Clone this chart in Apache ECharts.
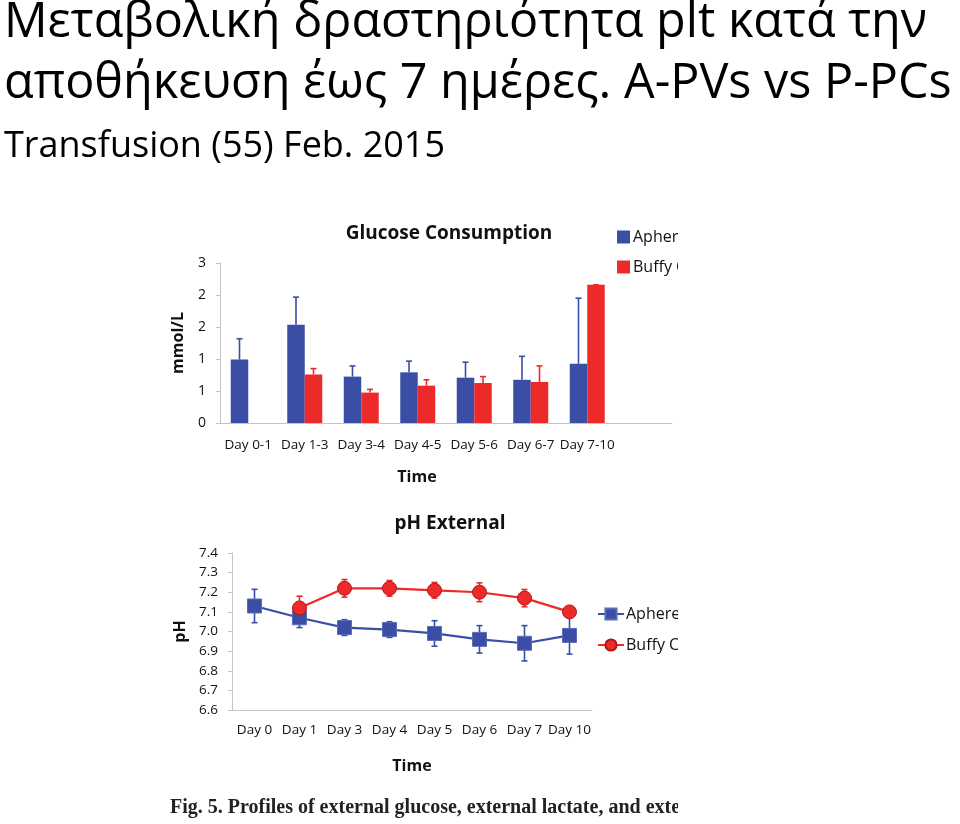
<!DOCTYPE html>
<html>
<head>
    <meta charset="utf-8">
    <title>Glucose / pH</title>
    <script src="https://cdn.jsdelivr.net/npm/echarts@6/dist/echarts.min.js"></script>
    <style>
        body { margin: 0; background: #fff; }
        #head { position: absolute; left: 0; top: 0; width: 960px; height: 170px; }
        #fig { position: absolute; left: 0; top: 170px; width: 678px; height: 654px; }
    </style>
</head>
<body>
    <div id="head"></div>
    <div id="fig"></div>
    <script>
        // glucose consumption (mmol/L), mean + SD
        var glucCats = ['Day 0-1', 'Day 1-3', 'Day 3-4', 'Day 4-5', 'Day 5-6', 'Day 6-7', 'Day 7-10', ''];
        var glucApher = [1.19, 1.84, 0.87, 0.95, 0.85, 0.81, 1.11];
        var glucApherSd = [0.39, 0.52, 0.20, 0.21, 0.29, 0.44, 1.23];
        var glucBuffy = [null, 0.91, 0.57, 0.70, 0.75, 0.77, 2.59];
        var glucBuffySd = [null, 0.11, 0.06, 0.11, 0.12, 0.30, 0];

        // external pH, mean + SD
        var phCats = ['Day 0', 'Day 1', 'Day 3', 'Day 4', 'Day 5', 'Day 6', 'Day 7', 'Day 10'];
        var phApher = [7.13, 7.07, 7.02, 7.01, 6.99, 6.96, 6.94, 6.98];
        var phApherSd = [0.085, 0.05, 0.04, 0.04, 0.065, 0.07, 0.09, 0.095];
        var phBuffy = [null, 7.12, 7.22, 7.22, 7.21, 7.20, 7.17, 7.10];
        var phBuffySd = [null, 0.06, 0.045, 0.04, 0.04, 0.048, 0.044, 0.01];

        var BLUE = '#3b4ea6';
        var RED = '#ec2a2a';
        var FONT = '"Open Sans", sans-serif';
        var AXIS_GREY = '#c4c4c4';

        // header text
        var head = echarts.init(document.getElementById('head'));
        head.setOption({
            graphic: [
                { type: 'text', x: 4, y: 23, style: { text: 'Μεταβολική δραστηριότητα plt κατά την', fontSize: 48.5, fontFamily: FONT, fill: '#000', verticalAlign: 'middle' } },
                { type: 'text', x: 4, y: 84, style: { text: 'αποθήκευση έως 7 ημέρες. A-PVs vs P-PCs', fontSize: 48.5, fontFamily: FONT, fill: '#000', verticalAlign: 'middle' } },
                { type: 'text', x: 4, y: 147, style: { text: 'Transfusion (55) Feb. 2015', fontSize: 36, fontFamily: FONT, fill: '#000', verticalAlign: 'middle' } }
            ]
        });

        function errData(vals, sds) {
            var out = [];
            for (var i = 0; i < vals.length; i++) {
                if (vals[i] != null && sds[i] != null) out.push([i, vals[i], sds[i]]);
            }
            return out;
        }

        // vertical error bar, optional offset (for grouped bars), optional lower half
        function errRender(color, offset, cap, both) {
            return function (params, api) {
                var i = api.value(0), v = api.value(1), sd = api.value(2);
                var top = api.coord([i, v + sd]);
                var bot = api.coord([i, both ? v - sd : v]);
                var x = top[0] + offset;
                var st = { stroke: color, lineWidth: 1.6 };
                var kids = [
                    { type: 'line', shape: { x1: x, y1: top[1], x2: x, y2: bot[1] }, style: st },
                    { type: 'line', shape: { x1: x - cap, y1: top[1], x2: x + cap, y2: top[1] }, style: st }
                ];
                if (both) kids.push({ type: 'line', shape: { x1: x - cap, y1: bot[1], x2: x + cap, y2: bot[1] }, style: st });
                return { type: 'group', children: kids };
            };
        }

        var axisText = { color: '#111', fontFamily: FONT, fontSize: 13.5 };
        var nameText = { color: '#111', fontFamily: FONT, fontSize: 16, fontWeight: 'bold' };
        var titleText = { fontFamily: FONT, fontSize: 19, fontWeight: 'bold', color: '#111' };

        var fig = echarts.init(document.getElementById('fig'));
        fig.setOption({
            animation: false,
            title: [
                { text: 'Glucose Consumption', left: 444, top: 49, textAlign: 'center', textStyle: titleText },
                { text: 'pH External', left: 445, top: 339, textAlign: 'center', textStyle: titleText }
            ],
            legend: [
                { data: ['Apheresis', 'Buffy Coat'], orient: 'vertical', left: 617, top: 59, padding: 0,
                  itemWidth: 13, itemHeight: 13, itemGap: 14, icon: 'rect',
                  textStyle: { fontFamily: FONT, fontSize: 16, color: '#111', padding: [0, 0, 0, -2] } },
                { data: ['Apheresis ', 'Buffy Coat '], orient: 'vertical', left: 597, top: 436, padding: 0,
                  itemWidth: 26, itemHeight: 14, itemGap: 15,
                  textStyle: { fontFamily: FONT, fontSize: 16, color: '#111', padding: [0, 0, 0, -3] } }
            ],
            grid: [
                { left: 220, right: 6, top: 93, height: 160 },
                { left: 232, right: 86, top: 383, height: 157 }
            ],
            xAxis: [
                { type: 'category', gridIndex: 0, data: glucCats,
                  name: 'Time', nameLocation: 'middle', nameGap: 46, nameTextStyle: Object.assign({ padding: [0, 58, 0, 0] }, nameText),
                  axisLine: { lineStyle: { color: AXIS_GREY } },
                  axisTick: { length: 5, lineStyle: { color: AXIS_GREY } },
                  axisLabel: Object.assign({ margin: 15, interval: 0 }, axisText) },
                { type: 'category', gridIndex: 1, data: phCats,
                  name: 'Time', nameLocation: 'middle', nameGap: 48, nameTextStyle: nameText,
                  axisLine: { lineStyle: { color: AXIS_GREY } },
                  axisTick: { length: 5, lineStyle: { color: AXIS_GREY } },
                  axisLabel: Object.assign({ margin: 13, interval: 0 }, axisText) }
            ],
            yAxis: [
                { type: 'value', gridIndex: 0, min: 0, max: 3, interval: 0.6,
                  name: 'mmol/L', nameLocation: 'middle', nameGap: 34, nameTextStyle: nameText,
                  splitLine: { show: false },
                  axisLine: { show: true, lineStyle: { color: AXIS_GREY } },
                  axisTick: { show: true, length: 4, lineStyle: { color: AXIS_GREY } },
                  axisLabel: { margin: 14, fontSize: 14, color: '#111', fontFamily: FONT,
                               formatter: function (v) { return Math.round(v); } } },
                { type: 'value', gridIndex: 1, min: 6.6, max: 7.4, interval: 0.1,
                  name: 'pH', nameLocation: 'middle', nameGap: 44, nameTextStyle: nameText,
                  splitLine: { show: false },
                  axisLine: { show: true, lineStyle: { color: AXIS_GREY } },
                  axisTick: { show: true, length: 4, lineStyle: { color: AXIS_GREY } },
                  axisLabel: { margin: 14, fontSize: 13.5, color: '#111', fontFamily: FONT,
                               formatter: function (v) { return v.toFixed(1); } } }
            ],
            series: [
                { name: 'Apheresis', type: 'bar', xAxisIndex: 0, yAxisIndex: 0, data: glucApher,
                  barWidth: 17.5, barGap: '0%', itemStyle: { color: BLUE } },
                { name: 'Buffy Coat', type: 'bar', xAxisIndex: 0, yAxisIndex: 0, data: glucBuffy,
                  barWidth: 17.5, barGap: '0%', itemStyle: { color: RED } },
                { name: 'errGA', type: 'custom', xAxisIndex: 0, yAxisIndex: 0, z: 3,
                  renderItem: errRender(BLUE, -8.75, 3, false), data: errData(glucApher, glucApherSd) },
                { name: 'errGB', type: 'custom', xAxisIndex: 0, yAxisIndex: 0, z: 3,
                  renderItem: errRender(RED, 8.75, 3, false), data: errData(glucBuffy, glucBuffySd) },

                { name: 'errPA', type: 'custom', xAxisIndex: 1, yAxisIndex: 1, z: 1,
                  renderItem: errRender(BLUE, 0, 3, true), data: errData(phApher, phApherSd) },
                { name: 'errPB', type: 'custom', xAxisIndex: 1, yAxisIndex: 1, z: 1,
                  renderItem: errRender(RED, 0, 3, true), data: errData(phBuffy, phBuffySd) },
                { name: 'Apheresis ', type: 'line', xAxisIndex: 1, yAxisIndex: 1, data: phApher, z: 4,
                  symbol: 'rect', symbolSize: 14,
                  lineStyle: { color: BLUE, width: 2.2 },
                  itemStyle: { color: BLUE, borderColor: '#5b6cb8', borderWidth: 1 } },
                { name: 'Buffy Coat ', type: 'line', xAxisIndex: 1, yAxisIndex: 1, data: phBuffy, z: 4,
                  symbol: 'circle', symbolSize: 14,
                  lineStyle: { color: RED, width: 2.2 },
                  itemStyle: { color: RED, borderColor: '#b01818', borderWidth: 1 } }
            ],
            graphic: [
                { type: 'text', x: 170, y: 638, style: { text: 'Fig. 5. Profiles of external glucose, external lactate, and external pH',
                  fontSize: 20, fontWeight: 'bold', fontFamily: '"Liberation Serif", serif', fill: '#222', verticalAlign: 'middle' } }
            ]
        });
    </script>
</body>
</html>
